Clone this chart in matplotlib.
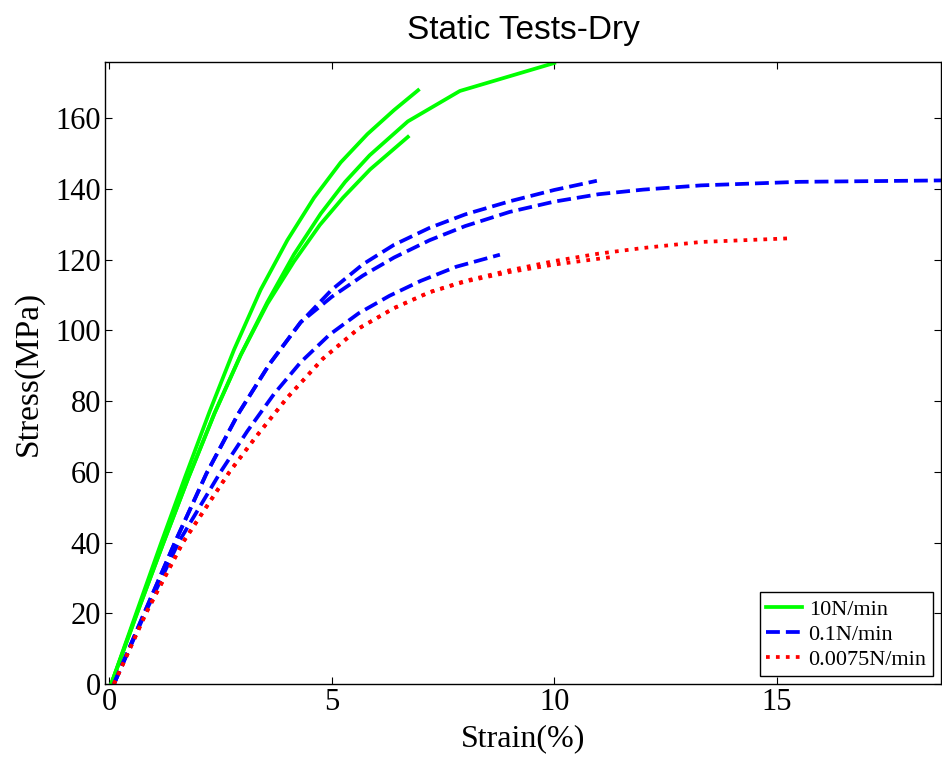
import matplotlib
matplotlib.use("Agg")
import matplotlib.pyplot as plt

# ---- data ----
g1_x = [0.04, 0.6, 1.15, 1.7, 2.25, 2.8, 3.4, 4.0, 4.6, 5.2, 5.8, 6.4, 6.94]
g1_y = [0, 20, 39.5, 58.5, 77, 94.5, 111.5, 125.5, 137.5, 147.5, 155.5, 162.3, 167.9]

g2_x = [0.04, 0.62, 1.2, 1.78, 2.36, 2.95, 3.55, 4.15, 4.75, 5.3, 5.85, 6.71, 7.88, 10.0]
g2_y = [0, 20, 39.5, 58.5, 76.5, 93.0, 108.0, 121.5, 133.0, 142.0, 149.5, 159.1, 167.7, 175.6]

g3_x = [0.04, 0.62, 1.2, 1.78, 2.36, 2.95, 3.55, 4.15, 4.73, 5.25, 5.86, 6.71]
g3_y = [0, 20, 39.5, 58.5, 76.5, 93.0, 107.5, 119.5, 129.8, 137.5, 145.5, 154.7]

b1_x = [0.1, 0.78, 1.47, 2.18, 2.9, 3.6, 4.3, 5.0, 5.7, 6.4, 7.2, 8.0, 9.0, 10.0, 10.96]
b1_y = [0, 20, 40, 59.5, 76.5, 90.5, 102.3, 111.5, 118.7, 124.2, 129, 132.8, 136.5, 139.7, 142.3]

b2_x = [0.1, 0.78, 1.47, 2.18, 2.9, 3.6, 4.3, 5.0, 5.7, 6.4, 7.2, 8.0, 9.0, 10.0,
        11.0, 12.0, 13.3, 15.5, 18.7]
b2_y = [0, 20, 40, 59.5, 76.5, 90.5, 102.3, 109.5, 115.5, 120.6, 125.5, 129.5, 133.5,
        136.4, 138.5, 139.8, 141, 142, 142.4]

b3_x = [0.1, 0.8, 1.55, 2.5, 3.1, 3.7, 4.3, 4.95, 5.6, 6.3, 7.0, 7.8, 8.78]
b3_y = [0, 20, 40, 60, 71.5, 82, 91, 98.8, 104.8, 109.8, 114, 118, 121.4]

r1_x = [0.1, 0.82, 1.65, 2.7, 3.3, 4.0, 4.8, 5.6, 6.4, 7.2, 8.0, 9.0, 10.0, 11.0,
        12.0, 13.3, 15.24]
r1_y = [0, 20, 40, 60, 70, 81, 92, 100.5, 106.3, 110.8, 114, 117, 119.6, 121.7,
        123.3, 125, 126]

r2_x = [0.1, 0.82, 1.65, 2.7, 3.3, 4.0, 4.8, 5.6, 6.4, 7.2, 8.0, 9.0, 10.0, 11.33]
r2_y = [0, 20, 40, 60, 70, 81, 92, 100.5, 106.3, 110.8, 113.8, 116.5, 118.6, 120.8]

legend_labels = ["10N/min", "0.1N/min", "0.0075N/min"]
x_ticks = [0, 5, 10, 15]
y_ticks = [0, 20, 40, 60, 80, 100, 120, 140, 160]

# ---- figure ----
plt.rcParams['font.family'] = ['Liberation Serif', 'DejaVu Serif']
fig = plt.figure(figsize=(9.42, 7.6), dpi=100)
ax = fig.add_axes([0.1115, 0.1, 0.8875, 0.818])

GREEN = '#00ff00'
BLUE = '#0000ff'
RED = '#ff0000'
LW = 2.7

lg, = ax.plot(g1_x, g1_y, color=GREEN, lw=LW, ls='-', label=legend_labels[0])
ax.plot(g2_x, g2_y, color=GREEN, lw=LW, ls='-')
ax.plot(g3_x, g3_y, color=GREEN, lw=LW, ls='-')
lb, = ax.plot(b1_x, b1_y, color=BLUE, lw=LW, ls='--', label=legend_labels[1])
ax.plot(b2_x, b2_y, color=BLUE, lw=LW, ls='--')
ax.plot(b3_x, b3_y, color=BLUE, lw=LW, ls='--')
lr, = ax.plot(r1_x, r1_y, color=RED, lw=LW, ls=':', label=legend_labels[2])
ax.plot(r2_x, r2_y, color=RED, lw=LW, ls=':')

ax.set_xlim(-0.1, 18.7)
ax.set_ylim(0, 175.8)
ax.set_xticks(x_ticks)
ax.set_yticks(y_ticks)
ax.tick_params(direction='in', top=True, right=True, length=5, width=0.8,
               labelsize=22, pad=3)
for s in ax.spines.values():
    s.set_linewidth(1.0)

ax.set_xlabel('Strain(%)', fontsize=23, labelpad=5)
ax.set_ylabel('Stress(MPa)', fontsize=24, labelpad=8)
ax.set_title('Static Tests-Dry', fontsize=24, family=['Liberation Sans', 'DejaVu Sans'], pad=17)

leg = ax.legend(handles=[lg, lb, lr], loc='lower right', fontsize=16,
                frameon=True, fancybox=False, framealpha=1, edgecolor='black',
                borderaxespad=0.35, handlelength=1.6, handletextpad=0.3,
                labelspacing=0.2, borderpad=0.3)
leg.get_frame().set_linewidth(1.0)

fig.savefig('out.png', dpi=100)
